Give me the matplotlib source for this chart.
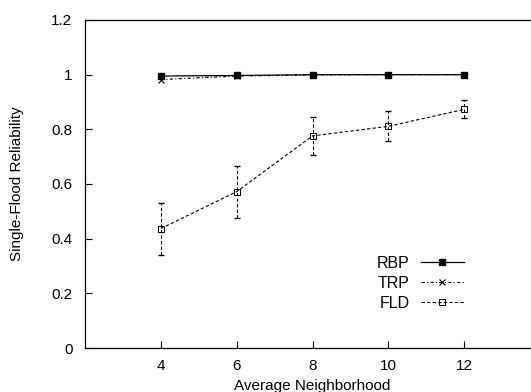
import numpy as np
import matplotlib.pyplot as plt

plt.rcParams['font.family'] = ['Liberation Sans', 'DejaVu Sans']

# --- DATA ---
neighborhood = [4, 6, 8, 10, 12]
rbp = [0.995, 0.997, 1.0, 1.0, 1.0]
trp = [0.982, 0.995, 0.999, 1.0, 1.0]
fld = [0.437, 0.572, 0.776, 0.811, 0.873]
fld_err = [0.095, 0.095, 0.07, 0.055, 0.033]

x_ticks = [4, 6, 8, 10, 12]
y_ticks = [0, 0.2, 0.4, 0.6, 0.8, 1, 1.2]
y_tick_labels = ['0', '0.2', '0.4', '0.6', '0.8', '1', '1.2']

fig = plt.figure(figsize=(5.31, 3.92), dpi=100)
# right edge of the plot frame falls just outside the picture, as in the reference
ax = fig.add_axes([85 / 531, 1 - 348 / 392, (540 - 85) / 531, (348 - 20) / 392])

ax.plot(neighborhood, rbp, '-', color='black', lw=0.9, marker='s', ms=5,
        mfc='black', mec='black', label='RBP')
ax.plot(neighborhood, trp, color='black', lw=0.8, dashes=[3, 2, 1, 2],
        marker='x', ms=4, mew=0.8, label='TRP')
ax.plot(neighborhood, fld, color='black', lw=0.8, dashes=[3, 2],
        marker='s', ms=5, mfc='none', mec='black', mew=0.7, label='FLD')
eb = ax.errorbar(neighborhood, fld, yerr=fld_err, fmt='none', ecolor='black',
                 capsize=2.5, elinewidth=0.8)
for line in eb[2]:
    line.set_linestyle((0, (3, 2)))

ax.set_xlim(2, 14)
ax.set_ylim(0, 1.2)
ax.set_xticks(x_ticks)
ax.set_yticks(y_ticks)
ax.set_yticklabels(y_tick_labels)
ax.tick_params(direction='in', length=5, width=0.8, labelsize=11, pad=9)
ax.tick_params(axis='x', pad=8)
for s in ax.spines.values():
    s.set_linewidth(0.9)

ax.set_xlabel('Average Neighborhood', fontsize=11, labelpad=4)
ax.set_ylabel('Single-Flood Reliability', fontsize=11, labelpad=20)

leg = ax.legend(loc='lower left', bbox_to_anchor=(0.61, 0.07), frameon=False,
                markerfirst=False, fontsize=11.5, handlelength=2.7,
                handletextpad=0.7, labelspacing=0.3)
for t in leg.get_texts():
    t.set_ha('right')

fig.savefig('out.png', dpi=100)
